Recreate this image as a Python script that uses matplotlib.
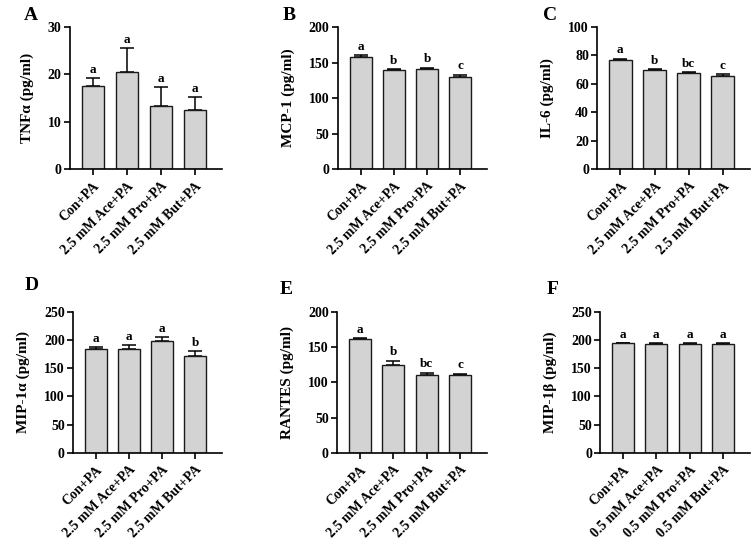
import matplotlib.pyplot as plt

plt.rcParams['font.family'] = ['Liberation Serif', 'DejaVu Serif']
plt.rcParams['font.weight'] = 'bold'

groups_25 = ['Con+PA', '2.5 mM Ace+PA', '2.5 mM Pro+PA', '2.5 mM But+PA']
groups_05 = ['Con+PA', '0.5 mM Ace+PA', '0.5 mM Pro+PA', '0.5 mM But+PA']

tnf_mean = [17.5, 20.5, 13.4, 12.5]
tnf_err = [1.8, 5.0, 4.0, 2.8]
tnf_sig = ['a', 'a', 'a', 'a']

mcp_mean = [158, 139, 141, 130]
mcp_err = [2.5, 2.0, 2.0, 3.0]
mcp_sig = ['a', 'b', 'b', 'c']

il6_mean = [77, 70, 67.8, 65.5]
il6_err = [0.8, 0.6, 0.6, 1.2]
il6_sig = ['a', 'b', 'bc', 'c']

mip1a_mean = [185, 185, 198, 172]
mip1a_err = [3, 6, 7, 9]
mip1a_sig = ['a', 'a', 'a', 'b']

rantes_mean = [161, 125, 111, 110]
rantes_err = [2, 6, 3, 2.5]
rantes_sig = ['a', 'b', 'bc', 'c']

mip1b_mean = [194, 193, 193, 193]
mip1b_err = [1.5, 1.5, 1.5, 1.5]
mip1b_sig = ['a', 'a', 'a', 'a']

# letter, axes rect, labels, means, errors, letters, ylabel, ymax, step, panel-letter position
panels = [
    ('A', [0.0926, 0.693, 0.201, 0.258], groups_25, tnf_mean, tnf_err, tnf_sig, 'TNFα (pg/ml)', 30, 10, (-0.26, 1.08)),
    ('B', [0.447, 0.693, 0.197, 0.258], groups_25, mcp_mean, mcp_err, mcp_sig, 'MCP-1 (pg/ml)', 200, 50, (-0.33, 1.08)),
    ('C', [0.790, 0.693, 0.202, 0.258], groups_25, il6_mean, il6_err, il6_sig, 'IL-6 (pg/ml)', 100, 20, (-0.31, 1.08)),
    ('D', [0.0966, 0.178, 0.197, 0.256], groups_25, mip1a_mean, mip1a_err, mip1a_sig, 'MIP-1α (pg/ml)', 250, 50, (-0.28, 1.19)),
    ('E', [0.446, 0.178, 0.198, 0.256], groups_25, rantes_mean, rantes_err, rantes_sig, 'RANTES (pg/ml)', 200, 50, (-0.34, 1.16)),
    ('F', [0.794, 0.178, 0.198, 0.256], groups_05, mip1b_mean, mip1b_err, mip1b_sig, 'MIP-1β (pg/ml)', 250, 50, (-0.32, 1.16)),
]

fig = plt.figure(figsize=(7.56, 5.51), dpi=100)

for letter, pos, labels, means, errs, sigs, ylab, ymax, step, lpos in panels:
    ax = fig.add_axes(pos)
    x = list(range(len(means)))
    ax.bar(x, means, width=0.66, color='#d3d3d3', edgecolor='#1a1a1a', linewidth=1.0, zorder=2)
    ax.errorbar(x, means, yerr=[[0] * len(errs), errs], fmt='none', ecolor='black',
                elinewidth=1.1, capsize=5, capthick=1.1, zorder=1)
    for xi, m, e, s in zip(x, means, errs, sigs):
        ax.text(xi, m + e + ymax * 0.015, s, ha='center', va='bottom', fontsize=9.5, fontweight='bold')
    ax.set_xlim(-0.68, 3.8)
    ax.set_ylim(0, ymax)
    ax.set_yticks(range(0, ymax + 1, step))
    ax.set_xticks(x)
    ax.set_xticklabels(labels, rotation=45, ha='right', rotation_mode='anchor', fontsize=10, fontweight='bold')
    ax.tick_params(axis='y', labelsize=10, width=1.2, length=4, pad=2)
    ax.tick_params(axis='x', width=1.2, length=4)
    ax.spines['top'].set_visible(False)
    ax.spines['right'].set_visible(False)
    ax.spines['left'].set_linewidth(1.2)
    ax.spines['bottom'].set_linewidth(1.2)
    ax.set_ylabel(ylab, fontsize=11, fontweight='bold', labelpad=10)
    ax.text(lpos[0], lpos[1], letter, transform=ax.transAxes, fontsize=14, fontweight='bold',
            ha='center', va='center')

fig.savefig('out.png', dpi=100)
